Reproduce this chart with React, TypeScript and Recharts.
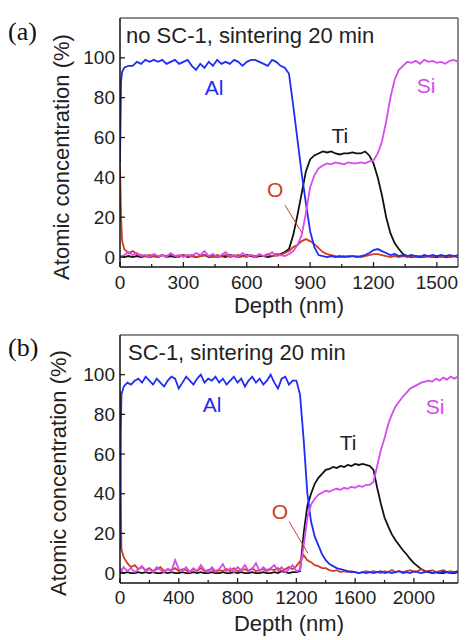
import { LineChart, Line, XAxis, YAxis, ReferenceLine, ReferenceDot } from "recharts";

// Depth profiles (atomic %) vs sputter depth (nm)
const DEPTH_A = [
  0, 5, 10, 20, 40, 60, 80, 100, 120, 140,
  160, 180, 200, 220, 240, 260, 280, 300, 320, 340,
  360, 380, 400, 420, 440, 460, 480, 500, 520, 540,
  560, 580, 600, 620, 640, 660, 680, 700, 720, 740,
  760, 780, 800, 820, 840, 860, 880, 900, 920, 940,
  960, 980, 1000, 1020, 1040, 1060, 1080, 1100, 1120, 1140,
  1160, 1180, 1200, 1220, 1240, 1260, 1280, 1300, 1320, 1340,
  1360, 1380, 1400, 1420, 1440, 1460, 1480, 1500, 1520, 1540,
  1560, 1580, 1600,
];
const AL_A = [
  47, 88, 93, 95, 96, 96, 98, 97, 99, 98,
  99, 98, 99, 97, 98, 99, 97, 98, 99, 96,
  94, 97, 95, 98, 96, 99, 97, 98, 97, 99,
  98, 96, 98, 99, 99, 98, 97, 96, 99, 98,
  96, 95, 92, 76, 59, 42, 27, 13, 5, 1,
  0.5, 0, 0.5, 0, 0.5, 0, 0.5, 0.5, 0, 0.5,
  1, 2, 3.5, 4, 3, 2, 1, 1.5, 0.5, 1,
  0.5, 1, 0.5, 0, 1, 0.5, 1, 0.5, 1, 0.5,
  1, 0.5, 1,
];
const TI_A = [
  0, 0, 0.5, 0, 0.5, 0, 0.5, 0, 0.5, 0,
  0.5, 0, 1, 0, 0.5, 0, 0.5, 1, 0, 0.5,
  0, 0.5, 1, 0, 0.5, 0, 0.5, 0, 1, 0.5,
  0, 0.5, 1, 0.5, 0, 0.5, 0.5, 0, 0.5, 1,
  1.5, 2.5, 4, 11, 21, 32, 43, 49, 51, 52,
  53, 52.5, 53, 52, 51.5, 52, 52, 52.5, 52, 52,
  53, 51, 47, 40, 31, 20, 12, 7, 4, 1.5,
  0.5, 0, 0.5, 0, 0, 0.5, 0, 0, 0.5, 0,
  0, 0.5, 0,
];
const SI_A = [
  0, 0, 0.5, 1, 2.5, 1, 2, 0.5, 1, 0,
  1.5, 0.5, 1, 0, 2, 0.5, 1, 0, 1, 0.5,
  2, 1, 3, 0.5, 1.5, 0, 1, 2.5, 0.5, 1,
  0, 2, 0.5, 1, 0, 1.5, 0.5, 1, 2.5, 0.5,
  1, 0.5, 1.5, 3, 6, 11, 22, 35, 41, 44.5,
  46, 47, 46.5, 47.5, 47, 46.5, 47.5, 47, 47, 47.5,
  47, 48, 48.5, 52, 58, 68, 80, 89, 94, 96,
  98, 97.5, 98.5, 97, 99, 98, 98.5, 97.5, 98, 97,
  98.5, 99, 98,
];
const O_A = [
  46, 20, 8, 4, 2, 3, 1.5, 1, 0.5, 1,
  0.5, 0, 1, 0.5, 1.5, 0.5, 0, 1, 0.5, 1,
  0, 0.5, 1, 0.5, 0, 1, 0.5, 1, 0, 0.5,
  1, 0.5, 0, 1, 0.5, 1, 0.5, 1.5, 0.5, 1.5,
  1, 2, 3, 5, 6, 8, 9, 8, 6.5, 4.5,
  2.5, 1.5, 1, 0.5, 0, 0.5, 0, 0.5, 0.5, 0,
  0.5, 1, 1.5, 1.5, 1, 0.5, 0, 0.5, 0, 0.5,
  0, 0.5, 0, 0.5, 0, 0.5, 0, 0.5, 0, 0.5,
  0, 0.5, 0.5,
];

const DEPTH_B = [
  0, 5, 10, 25, 50, 75, 100, 125, 150, 175,
  200, 225, 250, 275, 300, 325, 350, 375, 400, 425,
  450, 475, 500, 525, 550, 575, 600, 625, 650, 675,
  700, 725, 750, 775, 800, 825, 850, 875, 900, 925,
  950, 975, 1000, 1025, 1050, 1075, 1100, 1125, 1150, 1175,
  1200, 1225, 1250, 1275, 1300, 1325, 1350, 1375, 1400, 1425,
  1450, 1475, 1500, 1525, 1550, 1575, 1600, 1625, 1650, 1675,
  1700, 1725, 1750, 1775, 1800, 1825, 1850, 1875, 1900, 1925,
  1950, 1975, 2000, 2025, 2050, 2075, 2100, 2125, 2150, 2175,
  2200, 2225, 2250, 2275, 2300,
];
const AL_B = [
  12, 70, 90, 94, 96, 95, 97, 98, 96, 99,
  97, 95, 98, 96, 94, 97, 99, 98, 93, 96,
  99, 97, 95, 98, 100, 96, 98, 97, 99, 96,
  98, 95, 97, 99, 96, 98, 94, 97, 99, 96,
  98, 95, 97, 100, 96, 93, 98, 99, 95, 97,
  97, 90, 67, 40, 26, 18.5, 14, 9.5, 6.5, 4.5,
  3.5, 2.5, 2, 1.5, 1, 0.5, 0.5, 0, 0.5, 0,
  0.5, 0, 0.5, 1, 0, 0.5, 0, 0.5, 1, 0,
  0.5, 0, 1, 0.5, 0, 0.5, 1, 0, 0.5, 0,
  1, 0.5, 0, 0.5, 1,
];
const TI_B = [
  0, 0, 0.5, 0, 0.5, 0, 0, 0.5, 0, 0.5,
  0, 0.5, 0, 0, 0.5, 0, 0.5, 0, 0, 0.5,
  0, 0, 0.5, 0, 0.5, 0, 0, 0.5, 0, 0,
  0.5, 0, 0, 0.5, 0, 0.5, 0, 0, 0.5, 0,
  0, 0.5, 0, 0, 0.5, 0, 1, 0.5, 0, 0.5,
  0.5, 1, 20, 34, 40, 45, 48, 50, 52, 52.5,
  53.5, 53, 54, 53.5, 54.5, 54, 55, 54.5, 55, 54.5,
  54, 52, 43, 35, 28, 23.5, 19.5, 16.5, 14, 11.5,
  9.5, 7, 5, 3.5, 2, 1, 0.5, 0, 0.5, 0,
  0, 0.5, 0, 0, 0.5,
];
const SI_B = [
  1, 2, 1, 3, 1, 2.5, 0.5, 2, 3.5, 1,
  2, 0.5, 3, 1.5, 0.5, 2, 1, 6.5, 2, 1,
  3, 0.5, 2.5, 1, 4, 1.5, 0.5, 3, 1, 2,
  4.5, 1, 2.5, 0.5, 3, 1.5, 4, 1, 2, 5,
  1, 3, 1.5, 2.5, 4, 1, 3, 0.5, 2, 4,
  1, 1.5, 14, 28, 34.5, 37.5, 39.5, 40.5, 41.5, 41,
  42, 42.5, 42, 43, 42.5, 43.5, 43, 44, 43.5, 44.5,
  44.5, 46, 54, 62, 68, 75, 80, 84, 86.5, 89,
  91, 93, 94, 95, 96, 96.5, 97, 96.5, 98, 97,
  98.5, 97.5, 99, 98, 99,
];
const O_B = [
  92, 40, 12, 8, 5, 3, 4, 2, 3, 1.5,
  2.5, 1, 2, 3, 1, 2, 1.5, 2.5, 1, 2,
  1.5, 0.5, 2, 1, 2.5, 1, 1.5, 2, 0.5, 1.5,
  1, 2, 1, 2.5, 1, 1.5, 2, 1, 2.5, 1,
  1.5, 2, 1, 2, 1.5, 2.5, 1, 2, 3, 2,
  3.5, 6, 9, 6.5, 5.5, 4, 3.5, 2.5, 2.5, 1.5,
  1, 1.5, 0.5, 1, 0.5, 1, 0.5, 0, 0.5, 1,
  0.5, 1, 0.5, 0, 1, 0.5, 1.5, 0.5, 1, 0.5,
  1, 1.5, 0.5, 1, 2, 0.5, 1, 1.5, 0.5, 1,
  1.5, 0.5, 1, 0.5, 1,
];

const X_TICKS_A = [0, 150, 300, 450, 600, 750, 900, 1050, 1200, 1350, 1500];
const X_TICKS_B = [0, 200, 400, 600, 800, 1000, 1200, 1400, 1600, 1800, 2000, 2200];
const Y_TICKS = [0, 20, 40, 60, 80, 100];

const COLORS: Record<string, string> = {
  Al: "#1f2cf5",
  Ti: "#111111",
  Si: "#d54bef",
  O: "#d23c1e",
};
const SANS = "'Liberation Sans', Arial, sans-serif";
const INK = "#222";
const LINE_W = 1.8;

function toRows(depth: number[], al: number[], ti: number[], si: number[], o: number[]) {
  return depth.map((d, i) => ({ depth: d, Al: al[i], Ti: ti[i], Si: si[i], O: o[i] }));
}

type Note = { name: string; x: number; y: number };

type PanelProps = {
  rows: ReturnType<typeof toRows>;
  xMax: number;
  xTicks: number[];
  xStep: number;
  top: number;
  axisHeight: number;
  labelGap: number;
  letter: string;
  letterY: number;
  title: string;
  titleX: number;
  titleY: number;
  yTitleX: number;
  yTitleY: number;
  xTitleY: number;
  notes: Note[];
  pointer: [number, number, number, number];
};

function Panel(p: PanelProps) {
  const xTick = (props: any) => {
    const { x, y, payload } = props;
    const major = payload.value % p.xStep === 0;
    return (
      <g>
        <line x1={x} x2={x} y1={y} y2={y - (major ? 5 : 3)} stroke="#111" strokeWidth={1.2} />
        {major && (
          <text x={x} y={y + p.labelGap} textAnchor="middle" dominantBaseline="central" fontSize={19} fill={INK} fontFamily={SANS}>
            {payload.value}
          </text>
        )}
      </g>
    );
  };
  const yTick = (props: any) => {
    const { x, y, payload } = props;
    return (
      <g>
        <line x1={x} x2={x + 5} y1={y} y2={y} stroke="#111" strokeWidth={1.2} />
        <text x={x - 5} y={y} textAnchor="end" dominantBaseline="central" fontSize={19} fill={INK} fontFamily={SANS}>
          {payload.value}
        </text>
      </g>
    );
  };

  return (
    <div style={{ position: "relative", width: 467, height: 320 }}>
      <LineChart width={467} height={320} data={p.rows} margin={{ top: p.top, right: 9, bottom: 0, left: 0 }}>
        <XAxis
          type="number"
          dataKey="depth"
          domain={[0, p.xMax]}
          ticks={p.xTicks}
          interval={0}
          allowDataOverflow
          height={p.axisHeight}
          tickSize={0}
          tickMargin={0}
          tickLine={false}
          axisLine={{ stroke: "#111", strokeWidth: 1.5 }}
          tick={xTick}
          label={{
            content: () => (
              <text x={289} y={p.xTitleY} textAnchor="middle" dominantBaseline="central" fontSize={22} fill={INK} fontFamily={SANS}>
                Depth (nm)
              </text>
            ),
          }}
        />
        <YAxis
          type="number"
          domain={[-5, 120]}
          ticks={Y_TICKS}
          interval={0}
          allowDataOverflow
          width={120}
          tickSize={0}
          tickMargin={0}
          tickLine={false}
          axisLine={{ stroke: "#111", strokeWidth: 1.5 }}
          tick={yTick}
          label={{
            content: () => (
              <text
                x={p.yTitleX}
                y={p.yTitleY}
                transform={`rotate(-90 ${p.yTitleX} ${p.yTitleY})`}
                textAnchor="middle"
                dominantBaseline="central"
                fontSize={22}
                fill={INK}
                fontFamily={SANS}
              >
                Atomic concentration (%)
              </text>
            ),
          }}
        />
        <ReferenceLine y={120} stroke="#666" strokeWidth={1.5} />
        <ReferenceLine x={p.xMax} stroke="#666" strokeWidth={1.5} />

        <Line dataKey="Ti" stroke={COLORS.Ti} strokeWidth={LINE_W} dot={false} isAnimationActive={false} />
        <Line dataKey="O" stroke={COLORS.O} strokeWidth={LINE_W} dot={false} isAnimationActive={false} />
        <Line dataKey="Al" stroke={COLORS.Al} strokeWidth={LINE_W} dot={false} isAnimationActive={false} />
        <Line dataKey="Si" stroke={COLORS.Si} strokeWidth={LINE_W} dot={false} isAnimationActive={false} />

        <ReferenceLine
          segment={[
            { x: p.pointer[0], y: p.pointer[1] },
            { x: p.pointer[2], y: p.pointer[3] },
          ]}
          stroke={COLORS.O}
          strokeWidth={1}
        />
        {p.notes.map((n) => (
          <ReferenceDot
            key={n.name}
            x={n.x}
            y={n.y}
            r={0}
            shape={(s: any) => (
              <text x={s.cx} y={s.cy} textAnchor="middle" dominantBaseline="central" fontSize={21} fill={n.name === "Ti" ? INK : COLORS[n.name]} fontFamily={SANS}>
                {n.name}
              </text>
            )}
          />
        ))}
      </LineChart>
      <div
        style={{
          position: "absolute",
          left: 8,
          top: p.letterY - 13,
          fontFamily: "'Liberation Serif', 'Times New Roman', serif",
          fontSize: 26,
          lineHeight: "26px",
          color: "#111",
        }}
      >
        {p.letter}
      </div>
      <div
        style={{
          position: "absolute",
          left: p.titleX,
          top: p.titleY - 11,
          fontFamily: SANS,
          fontSize: 22,
          lineHeight: "22px",
          color: INK,
          whiteSpace: "nowrap",
        }}
      >
        {p.title}
      </div>
    </div>
  );
}

export default function App() {
  return (
    <div style={{ position: "absolute", left: 0, top: 0, width: 467, height: 640, background: "#fff" }}>
      <Panel
        rows={toRows(DEPTH_A, AL_A, TI_A, SI_A, O_A)}
        xMax={1600}
        xTicks={X_TICKS_A}
        xStep={300}
        top={18}
        axisHeight={53}
        labelGap={15}
        letter="(a)"
        letterY={32}
        title="no SC-1, sintering 20 min"
        titleX={126}
        titleY={36}
        yTitleX={61}
        yTitleY={157}
        xTitleY={305}
        notes={[
          { name: "Al", x: 445, y: 85 },
          { name: "Si", x: 1449, y: 86 },
          { name: "Ti", x: 1041, y: 61 },
          { name: "O", x: 734, y: 34 },
        ]}
        pointer={[781, 26, 862, 12]}
      />
      <Panel
        rows={toRows(DEPTH_B, AL_B, TI_B, SI_B, O_B)}
        xMax={2300}
        xTicks={X_TICKS_B}
        xStep={400}
        top={15}
        axisHeight={57}
        labelGap={14}
        letter="(b)"
        letterY={28}
        title="SC-1, sintering 20 min"
        titleX={128}
        titleY={33}
        yTitleX={58}
        yTitleY={153}
        xTitleY={303}
        notes={[
          { name: "Al", x: 626, y: 85 },
          { name: "Si", x: 2144, y: 84 },
          { name: "Ti", x: 1552, y: 66 },
          { name: "O", x: 1089, y: 31 },
        ]}
        pointer={[1150, 26, 1279, 10]}
      />
    </div>
  );
}
